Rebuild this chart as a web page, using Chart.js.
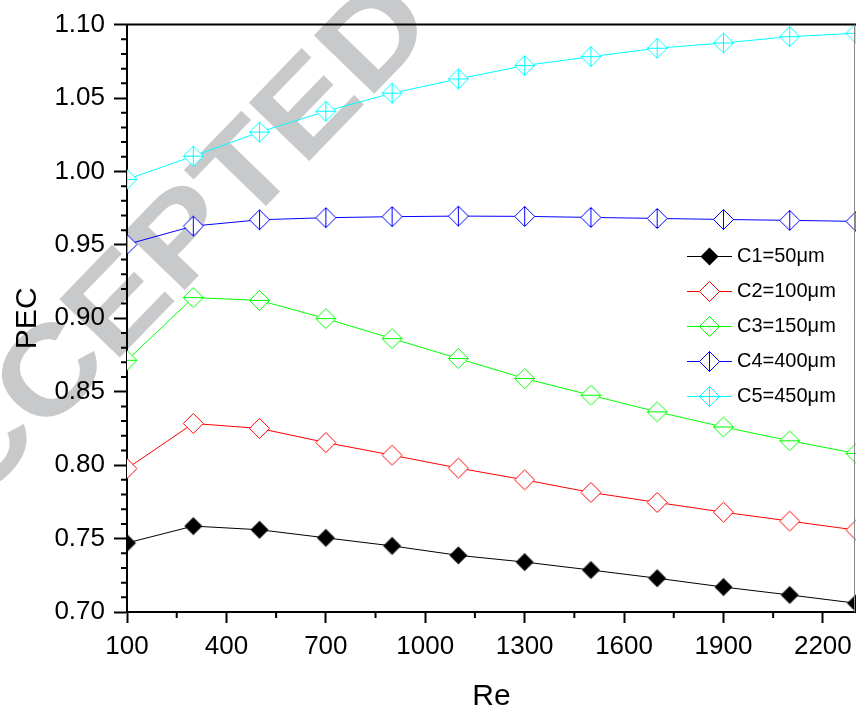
<!DOCTYPE html>
<html>
  <head>
    <title>PEC vs Re</title>
    <meta charset="utf-8" />
    <style>
      html, body { margin: 0; padding: 0; background: #fff; }
      canvas { display: block; }
    </style>
  </head>
  <body>
    <canvas id="pec-chart" width="856" height="711"></canvas>

    <script src="https://cdn.jsdelivr.net/npm/chart.js"></script>
    <script>
      // Reynolds numbers where PEC was evaluated
      var reValues = [100, 300, 500, 700, 900, 1100, 1300, 1500, 1700, 1900, 2100, 2300];
      var xTicks = [100, 400, 700, 1000, 1300, 1600, 1900, 2200];

      var seriesLabels = ["C1=50\u03bcm", "C2=100\u03bcm", "C3=150\u03bcm", "C4=400\u03bcm", "C5=450\u03bcm"];
      var c1 = [0.747, 0.7585, 0.756, 0.7505, 0.745, 0.7386, 0.734, 0.7286, 0.723, 0.717, 0.7116, 0.706];
      var c2 = [0.7977, 0.8284, 0.825, 0.8154, 0.8068, 0.798, 0.790, 0.7814, 0.7746, 0.768, 0.7619, 0.7558];
      var c3 = [0.8714, 0.9141, 0.9122, 0.8998, 0.8862, 0.8726, 0.859, 0.8476, 0.8363, 0.826, 0.8166, 0.808];
      var c4 = [0.9503, 0.9628, 0.9671, 0.9685, 0.9692, 0.9696, 0.9694, 0.9687, 0.968, 0.9673, 0.9667, 0.966];
      var c5 = [0.9946, 1.0104, 1.0268, 1.041, 1.0533, 1.063, 1.0721, 1.0782, 1.0839, 1.0875, 1.0918, 1.0941];

      var seriesValues = [c1, c2, c3, c4, c5];
      var seriesColors = ["#000000", "#ff0000", "#00ff00", "#0000ff", "#00ffff"];
      var markerKinds = ["filled", "open", "hbar", "vbar", "cross"];

      var FONT = "'Liberation Sans', Arial, Helvetica, sans-serif";

      // diamond symbol, optionally with a line segment through it for the legend
      function makeMarker(kind, color, withLine) {
        var r = kind === "filled" ? 9 : 10;
        var w = withLine ? 45 : 23;
        var h = 23;
        var c = document.createElement("canvas");
        c.width = w;
        c.height = h;
        var g = c.getContext("2d");
        var cx = w / 2, cy = h / 2;
        g.lineWidth = 1;
        g.strokeStyle = color;
        if (withLine) {
          g.beginPath();
          g.moveTo(0, cy);
          g.lineTo(w, cy);
          g.stroke();
        }
        g.beginPath();
        g.moveTo(cx, cy - r);
        g.lineTo(cx + r, cy);
        g.lineTo(cx, cy + r);
        g.lineTo(cx - r, cy);
        g.closePath();
        g.fillStyle = kind === "filled" ? color : "#ffffff";
        g.fill();
        if (kind !== "filled") g.stroke();
        g.beginPath();
        if (kind === "hbar" || kind === "cross") {
          g.moveTo(cx - r, cy);
          g.lineTo(cx + r, cy);
        }
        if (kind === "vbar" || kind === "cross") {
          g.moveTo(cx, cy - r);
          g.lineTo(cx, cy + r);
        }
        g.stroke();
        return c;
      }

      var datasets = seriesValues.map(function (vals, i) {
        return {
          label: seriesLabels[i],
          data: vals.map(function (v, j) { return { x: reValues[j], y: v }; }),
          borderColor: seriesColors[i],
          backgroundColor: seriesColors[i],
          borderWidth: 1,
          tension: 0,
          pointStyle: makeMarker(markerKinds[i], seriesColors[i], false),
          legendImage: makeMarker(markerKinds[i], seriesColors[i], true),
          pointRadius: 10,
          clip: 0,
        };
      });

      // grey "ACCEPTED" stamp behind the plot
      var stampPlugin = {
        id: "stamp",
        beforeDraw: function (chart, args, opts) {
          var ctx = chart.ctx;
          ctx.save();
          ctx.fillStyle = "#ffffff";
          ctx.fillRect(0, 0, chart.width, chart.height);
          ctx.translate(opts.x, opts.y);
          ctx.rotate((opts.angle * Math.PI) / 180);
          ctx.scale(opts.stretch, 1);
          ctx.font = "bold " + opts.size + "px " + FONT;
          ctx.fillStyle = opts.color;
          var lead = ctx.measureText("AC").width;
          var tail = ctx.measureText("CEPTED").width;
          ctx.fillText("ACCEPTED", -tail / 2 - lead, (opts.size * 0.716) / 2);
          ctx.restore();
        },
      };

      // minor ticks, top/right frame and the legend box inside the plot
      var framePlugin = {
        id: "frame",
        afterDraw: function (chart, args, opts) {
          var ctx = chart.ctx;
          var area = chart.chartArea;
          var xs = chart.scales.x, ys = chart.scales.y;
          ctx.save();
          ctx.strokeStyle = "#000";
          ctx.lineWidth = 2;
          ctx.beginPath();
          for (var v = 0.70; v < 1.10; v += 0.01) {
            var rv = Math.round(v * 100);
            if (rv % 5 === 0) continue;
            var py = ys.getPixelForValue(rv / 100);
            ctx.moveTo(area.left - 6, py);
            ctx.lineTo(area.left, py);
          }
          for (var k = 0; k < xTicks.length; k++) {
            var mid = xTicks[k] + 150;
            if (mid > xs.max) break;
            var px = xs.getPixelForValue(mid);
            ctx.moveTo(px, area.bottom);
            ctx.lineTo(px, area.bottom + 6);
          }
          ctx.stroke();

          ctx.beginPath();
          ctx.moveTo(area.left - 1, area.top);
          ctx.lineTo(area.right, area.top);
          ctx.stroke();
          ctx.strokeStyle = "#888";
          ctx.lineWidth = 1;
          ctx.beginPath();
          ctx.moveTo(area.right - 1.5, area.top);
          ctx.lineTo(area.right - 1.5, area.bottom);
          ctx.stroke();

          ctx.font = opts.fontSize + "px " + FONT;
          ctx.textBaseline = "middle";
          ctx.fillStyle = "#000";
          chart.data.datasets.forEach(function (ds, i) {
            var y = opts.top + i * opts.rowHeight;
            var img = ds.legendImage;
            ctx.drawImage(img, opts.left, Math.round(y - img.height / 2));
            ctx.fillText(ds.label, opts.left + img.width + opts.gap, y);
          });
          ctx.restore();
        },
      };

      var chart = new Chart(document.getElementById("pec-chart"), {
        type: "line",
        data: { datasets: datasets },
        plugins: [stampPlugin, framePlugin],
        options: {
          responsive: false,
          animation: false,
          layout: { autoPadding: false, padding: { top: 24, right: 0, left: 0, bottom: 0 } },
          plugins: {
            legend: { display: false },
            tooltip: { enabled: false },
            stamp: { x: 209, y: 202, angle: -46, size: 122, stretch: 1.15, color: "rgb(200,201,203)" },
            frame: { left: 687, top: 256, rowHeight: 35, gap: 5, fontSize: 20 },
          },
          scales: {
            x: {
              type: "linear",
              min: 100,
              max: 2300,
              afterBuildTicks: function (scale) {
                scale.ticks = xTicks.map(function (v) { return { value: v }; });
              },
              afterFit: function (scale) {
                scale.height = 99;
                scale.paddingRight = 0;
              },
              ticks: {
                autoSkip: false,
                maxRotation: 0,
                padding: 8,
                color: "#000",
                font: { family: FONT, size: 26 },
                callback: function (v) { return String(v); },
              },
              grid: {
                display: true,
                drawOnChartArea: false,
                drawTicks: true,
                tickLength: 11,
                tickWidth: 2,
                tickColor: "#000",
              },
              border: { display: true, width: 2, color: "#000" },
              title: {
                display: true,
                text: "Re",
                color: "#000",
                font: { family: FONT, size: 30, lineHeight: 0.93 },
                padding: { top: 0, bottom: 0 },
              },
            },
            y: {
              min: 0.7,
              max: 1.1,
              afterFit: function (scale) { scale.width = 127; },
              ticks: {
                stepSize: 0.05,
                padding: 9,
                color: "#000",
                font: { family: FONT, size: 26 },
                callback: function (v) { return v.toFixed(2); },
              },
              grid: {
                display: true,
                drawOnChartArea: false,
                drawTicks: true,
                tickLength: 13,
                tickWidth: 2,
                tickColor: "#000",
              },
              border: { display: true, width: 2, color: "#000" },
              title: {
                display: true,
                text: "PEC",
                color: "#000",
                font: { family: FONT, size: 30 },
                padding: { top: 10, bottom: 0 },
              },
            },
          },
        },
      });
    </script>
  </body>
</html>
